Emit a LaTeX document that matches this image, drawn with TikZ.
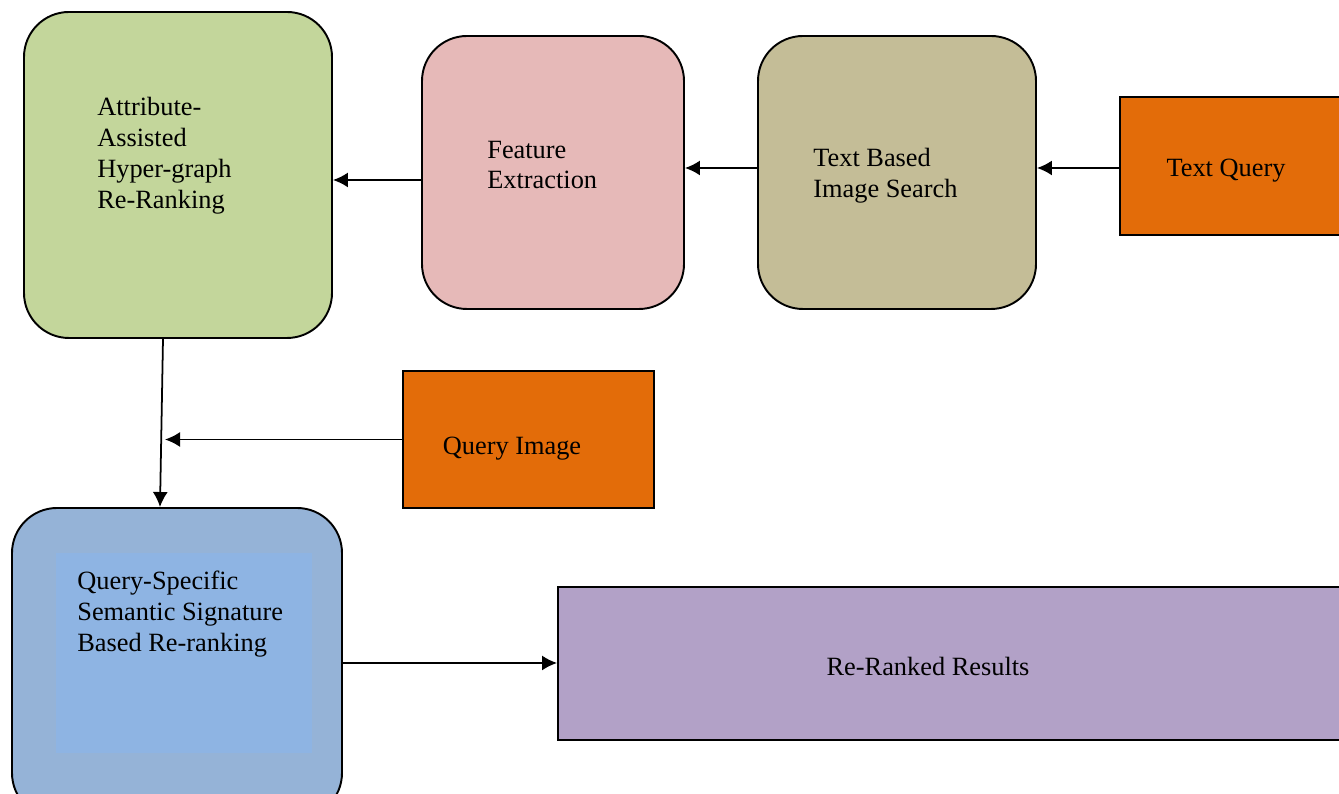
\documentclass[tikz,border=0pt]{standalone}
\usepackage{fontspec}
\setmainfont{Liberation Serif}
\usetikzlibrary{shapes,arrows.meta,positioning}
\definecolor{boxgreen}{HTML}{C3D69B}
\definecolor{boxpink}{HTML}{E6B9B8}
\definecolor{boxkhaki}{HTML}{C4BD97}
\definecolor{boxorange}{HTML}{E36C09}
\definecolor{boxblue}{HTML}{95B3D7}
\definecolor{innerblue}{HTML}{8EB4E3}
\definecolor{boxpurple}{HTML}{B2A1C7}
\tikzstyle{stage} = [rectangle, rounded corners=0.9cm, draw=black, line width=1.1pt]
\tikzstyle{input} = [rectangle, draw=black, line width=1.1pt, fill=boxorange]
\tikzstyle{txt} = [align=left, inner sep=0pt, font=\fontsize{15}{17.6}\selectfont]
\tikzstyle{arrow} = [line width=1pt,-{Latex[length=3mm,width=3mm]}]

\begin{document}
\begin{tikzpicture}
    \clip (0,0) rectangle (26.78,15.88);
    \fill[white] (0,0) rectangle (26.78,15.88);

    % top row
    \node[stage, fill=boxgreen, minimum width=6.16cm, minimum height=6.52cm] (attr) at (3.56,12.38) {};
    \node[stage, fill=boxpink, minimum width=5.24cm, minimum height=5.46cm] (feat) at (11.06,12.43) {};
    \node[stage, fill=boxkhaki, minimum width=5.56cm, minimum height=5.46cm] (search) at (17.94,12.43) {};
    \node[input, minimum width=4.8cm, minimum height=2.76cm] (tquery) at (24.80,12.56) {};

    \node[txt, anchor=west] (attrtxt) at (1.94,12.76) {Attribute-\\Assisted\\Hyper-graph\\Re-Ranking};
    \node[txt, anchor=west] (feattxt) at (9.74,12.58) {Feature\\Extraction};
    \node[txt, anchor=west] (searchtxt) at (16.26,12.36) {Text Based\\Image Search};
    \node[txt] (tquerytxt) at (24.52,12.46) {Text Query};

    % middle
    \node[input, minimum width=5.02cm, minimum height=2.74cm] (qimg) at (10.57,7.09) {};
    \node[txt] (qimgtxt) at (10.24,6.90) {Query Image};

    % bottom row
    \node[stage, fill=boxblue, minimum width=6.6cm, minimum height=6.2cm] (qsss) at (3.54,2.62) {};
    \fill[innerblue] (1.12,0.82) rectangle (6.24,4.82);
    \node[txt, anchor=west] (qssstxt) at (1.54,3.59) {Query-Specific\\Semantic Signature\\Based Re-ranking};
    \node[rectangle, draw=black, line width=1.1pt, fill=boxpurple, minimum width=16.2cm, minimum height=3.06cm] (result) at (19.26,2.61) {};
    \node[txt] (resulttxt) at (18.56,2.56) {Re-Ranked Results};

    % connectors
    \draw[arrow] ([yshift=-0.04cm]tquery.west) -- ([yshift=-0.04cm]tquery.west -| search.east);
    \draw[arrow] ([yshift=0.09cm]search.west) -- ([yshift=0.09cm]search.west -| feat.east);
    \draw[arrow] ([yshift=-0.15cm]feat.west) -- ([yshift=-0.15cm]feat.west -| attr.east);
    \draw[arrow] ([xshift=-0.3cm]attr.south) -- ([xshift=-0.34cm]qsss.north);
    \coordinate (join) at (3.30,7.09);
    \draw[arrow] (qimg.west) -- (join);
    \draw[arrow] (qsss.east) -- (qsss.east -| result.west);
\end{tikzpicture}
\end{document}
